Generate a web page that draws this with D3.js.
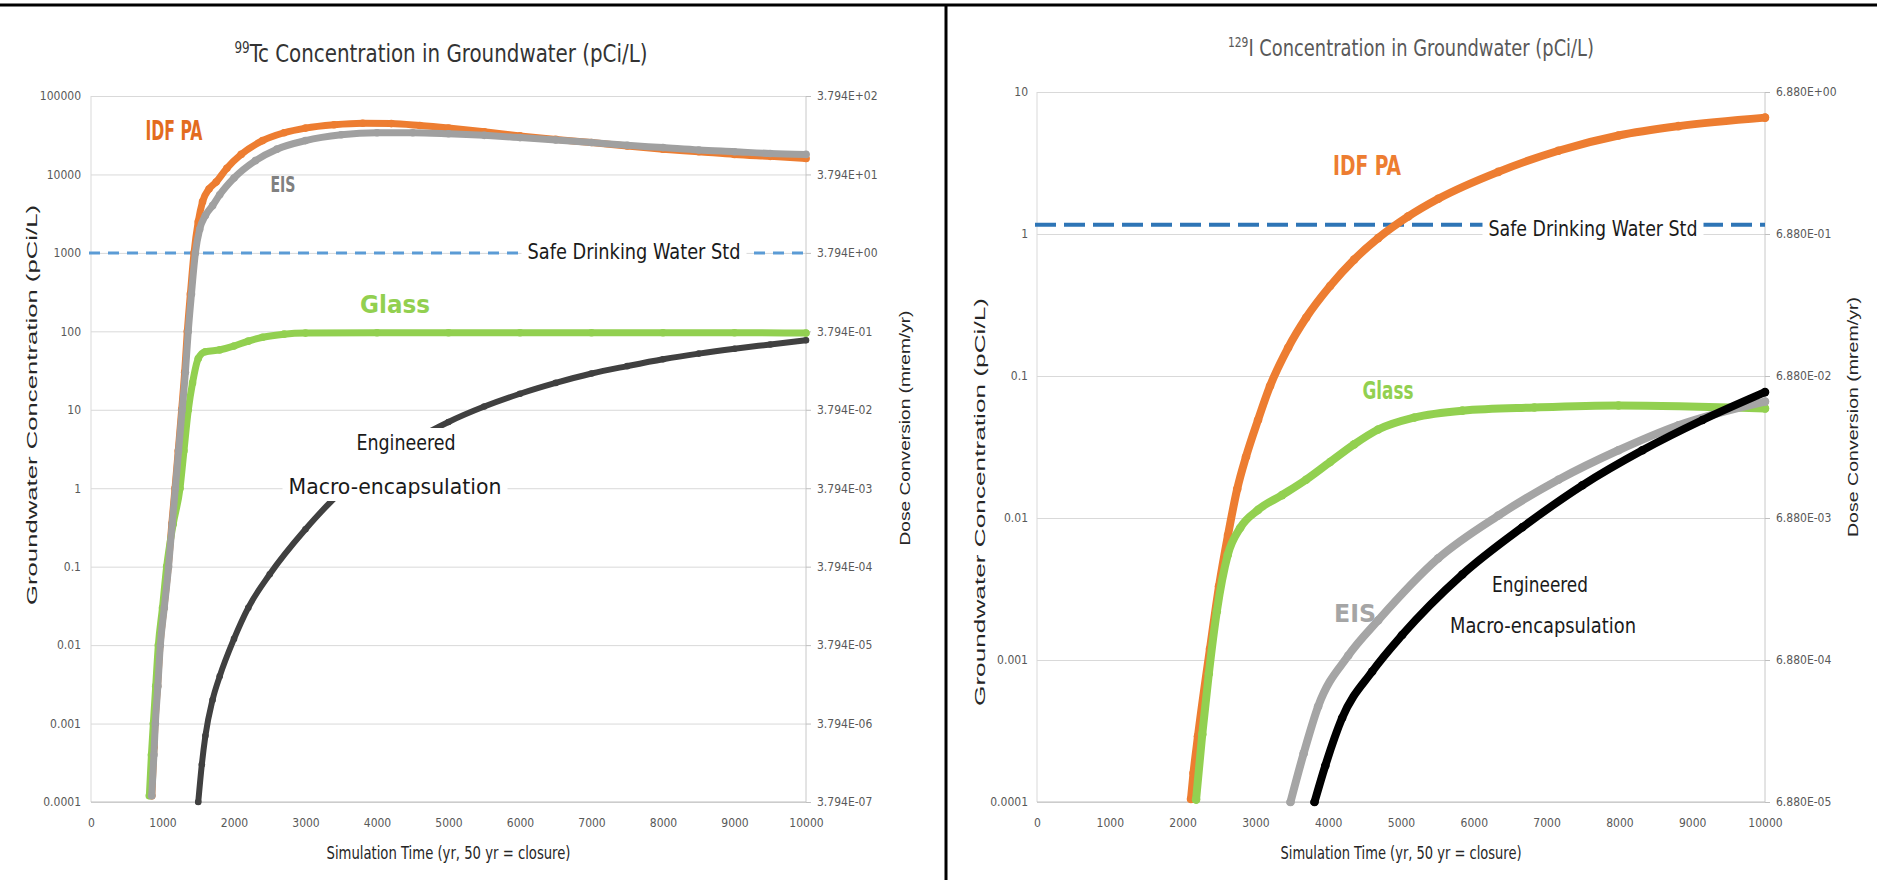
<!DOCTYPE html>
<html><head><meta charset="utf-8">
<script src="https://cdn.jsdelivr.net/npm/d3@7"></script>
<style>
body{margin:0;background:#fff;}
svg{display:block;}
text{font-family:"Liberation Sans Narrow","DejaVu Sans Condensed","Liberation Sans",sans-serif;}
</style></head><body>
<svg id="c" width="1877" height="880"></svg>
<script>
// ---------- DATA ----------
const xTicks = [0,1000,2000,3000,4000,5000,6000,7000,8000,9000,10000];

const tcYTicks = [1e-4,1e-3,1e-2,1e-1,1,10,100,1000,10000,100000];
const tcYTickLabels = ["0.0001","0.001","0.01","0.1","1","10","100","1000","10000","100000"];
const tcDoseLabels = ["3.794E-07","3.794E-06","3.794E-05","3.794E-04","3.794E-03","3.794E-02","3.794E-01","3.794E+00","3.794E+01","3.794E+02"];

const iYTicks = [1e-4,1e-3,1e-2,1e-1,1,10];
const iYTickLabels = ["0.0001","0.001","0.01","0.1","1","10"];
const iDoseLabels = ["6.880E-05","6.880E-04","6.880E-03","6.880E-02","6.880E-01","6.880E+00"];

const tcSafeStd = 1000;
const iSafeStd = 1.16;

// Tc-99 series [year, pCi/L]
const tcIdfPA = [[850,1.2e-4],[880,5e-4],[895,1e-3],[930,3e-3],[965,1e-2],[1020,3e-2],[1080,0.1],[1130,0.35],[1175,1],[1220,3],[1268,10],[1310,30],[1347,100],[1390,300],[1441,1000],[1500,2500],[1560,4500],[1650,6500],[1750,8000],[1900,12000],[2100,18000],[2400,27000],[2700,34000],[3000,39000],[3400,43000],[3800,45000],[4200,44500],[4600,42000],[5000,39000],[5500,35000],[6000,31000],[6500,28000],[7000,25500],[7500,23000],[8000,21000],[8500,19500],[9000,18000],[9500,17000],[10000,16000]];
const tcEIS = [[850,1.2e-4],[880,4e-4],[900,1e-3],[935,3e-3],[970,1e-2],[1025,3e-2],[1085,0.1],[1135,0.35],[1180,1],[1225,3],[1275,10],[1320,30],[1360,100],[1405,300],[1460,1000],[1520,2000],[1600,3000],[1700,4000],[1800,5500],[2000,9000],[2300,15000],[2600,21000],[3000,27000],[3500,32000],[4000,34000],[4500,34000],[5000,33000],[5500,31500],[6000,29500],[6500,27500],[7000,25500],[7500,23500],[8000,22000],[8500,20500],[9000,19500],[9500,18500],[10000,18000]];
const tcGlass = [[816,1.2e-4],[845,4e-4],[872,1e-3],[905,3e-3],[942,1e-2],[1000,3e-2],[1058,0.1],[1150,0.35],[1245,1],[1300,3],[1361,10],[1420,22],[1500,45],[1600,55],[1800,58],[2000,65],[2200,75],[2400,84],[2700,92],[3000,95],[4000,96],[5000,96],[6000,96],[7000,96],[8000,96],[9000,96],[10000,95]];
const tcEngineered = [[1500,1e-4],[1550,3e-4],[1600,7e-4],[1700,2e-3],[1800,4e-3],[2000,0.012],[2200,0.03],[2500,0.08],[3000,0.3],[3500,0.9],[4000,2],[4500,4],[5000,7],[5500,11],[6000,16],[6500,22],[7000,29],[7500,36],[8000,44],[8500,52],[9000,60],[9500,68],[10000,77]];

// I-129 series [year, pCi/L]
const iIdfPA = [[2115,1.05e-4],[2150,1.6e-4],[2211,2.9e-4],[2376,1.2e-3],[2500,3.3e-3],[2624,7.6e-3],[2750,0.016],[2871,0.027],[3036,0.049],[3201,0.085],[3449,0.158],[3696,0.257],[4026,0.43],[4356,0.66],[4686,0.935],[5100,1.33],[5512,1.77],[6337,2.74],[7162,3.86],[7987,4.94],[8812,5.75],[10000,6.6]];
const iGlass = [[2185,1.04e-4],[2270,3e-4],[2360,8e-4],[2470,2.2e-3],[2620,5.5e-3],[2790,8.5e-3],[3036,0.0114],[3366,0.0145],[3696,0.0186],[4026,0.0248],[4356,0.033],[4686,0.042],[5182,0.051],[5842,0.057],[6832,0.060],[7987,0.062],[10000,0.059]];
const iEIS = [[3482,1e-4],[3663,2.2e-4],[3861,4.7e-4],[4274,1.07e-3],[4686,1.9e-3],[5512,5.2e-3],[6337,0.0104],[7162,0.0186],[7987,0.030],[8812,0.045],[10000,0.066]];
const iEngineered = [[3812,1e-4],[3960,1.8e-4],[4191,3.9e-4],[4604,8.3e-4],[5016,1.5e-3],[5842,4.0e-3],[6667,8.6e-3],[7492,0.017],[8317,0.030],[9142,0.049],[10000,0.077]];

// ---------- DRAW ----------
const svg = d3.select("#c");
svg.append("rect").attr("width",1877).attr("height",880).attr("fill","#fff");

function panel(c){
  const g = svg.append("g");
  const x = d3.scaleLinear().domain([0,10000]).range([c.l,c.r]);
  const y = d3.scaleLog().domain([c.yTicks[0], c.yTicks[c.yTicks.length-1]]).range([c.b,c.t]);
  // grid
  g.append("g").attr("transform",`translate(${c.l},0)`)
    .call(d3.axisLeft(y).tickValues(c.yTicks).tickSize(-(c.r-c.l)).tickFormat(""))
    .call(s=>{s.select(".domain").remove(); s.selectAll("line").attr("stroke","#d9d9d9");});
  g.append("line").attr("x1",c.l).attr("x2",c.l).attr("y1",c.t).attr("y2",c.b).attr("stroke","#d9d9d9");
  g.append("line").attr("x1",c.r).attr("x2",c.r).attr("y1",c.t).attr("y2",c.b).attr("stroke","#c8c8c8");
  g.append("line").attr("x1",c.l).attr("x2",c.r).attr("y1",c.b).attr("y2",c.b).attr("stroke","#bfbfbf");
  // left tick labels
  g.append("g").attr("transform",`translate(${c.l},0)`)
    .call(d3.axisLeft(y).tickValues(c.yTicks).tickSize(0).tickPadding(c.lPad).tickFormat((d,i)=>c.yLabels[i]))
    .call(s=>{s.select(".domain").remove(); s.selectAll("text").attr("fill","#595959").style("font-size","12px");});
  // right axis
  g.append("g").attr("transform",`translate(${c.r},0)`)
    .call(d3.axisRight(y).tickValues(c.yTicks).tickSize(5).tickPadding(6).tickFormat((d,i)=>c.doseLabels[i]))
    .call(s=>{s.select(".domain").remove(); s.selectAll("line").attr("stroke","#bfbfbf"); s.selectAll("text").attr("fill","#595959").style("font-size","12px");});
  // x axis labels
  g.append("g").attr("transform",`translate(0,${c.b})`)
    .call(d3.axisBottom(x).tickValues(xTicks).tickSize(0).tickPadding(16).tickFormat(d3.format("d")))
    .call(s=>{s.select(".domain").remove(); s.selectAll("text").attr("fill","#595959").style("font-size","12px");});

  // safe drinking water std line
  g.append("line").attr("x1",c.l-2).attr("x2",c.r).attr("y1",y(c.std)).attr("y2",y(c.std))
    .attr("stroke",c.stdColor).attr("stroke-width",c.stdW).attr("stroke-dasharray",c.stdDash);

  const line = d3.line().x(d=>x(d[0])).y(d=>y(d[1])).curve(d3.curveMonotoneX);
  c.series.forEach(s=>{
    g.append("path").attr("d",line(s.data)).attr("fill","none").attr("stroke",s.color)
      .attr("stroke-width",s.w).attr("stroke-linecap","round").attr("stroke-linejoin","round");
    g.selectAll(null).data(s.data).enter().append("circle")
      .attr("cx",d=>x(d[0])).attr("cy",d=>y(d[1])).attr("r",s.w/2+0.3).attr("fill",s.color);
  });

  // labels
  const boxes = {};
  c.labels.forEach(L=>{
    const t = g.append("text").attr("x",L.x).attr("y",L.y).text(L.text)
      .attr("fill",L.color).style("font-size",L.size+"px").style("font-weight",L.bold?"bold":"normal")
      .attr("text-anchor","middle");
    if(L.len) t.attr("textLength",L.len).attr("lengthAdjust","spacingAndGlyphs");
    if(L.box){
      const bb = t.node().getBBox();
      const b = boxes[L.box] || (boxes[L.box] = {x0:1e9,y0:1e9,x1:-1e9,y1:-1e9,first:t.node(),pad:L.pad});
      b.x0 = Math.min(b.x0,bb.x); b.y0 = Math.min(b.y0,bb.y);
      b.x1 = Math.max(b.x1,bb.x+bb.width); b.y1 = Math.max(b.y1,bb.y+bb.height);
    }
  });
  Object.values(boxes).forEach(b=>{
    g.insert("rect",()=>b.first).attr("x",b.x0-b.pad[0]).attr("y",b.y0-b.pad[1])
      .attr("width",b.x1-b.x0+2*b.pad[0]).attr("height",b.y1-b.y0+2*b.pad[1]).attr("fill","#fff");
  });

  // titles
  const tt = g.append("text").attr("x",c.titleX).attr("y",c.titleY).attr("text-anchor","middle")
    .attr("fill",c.titleColor).style("font-size",c.titleSize+"px");
  tt.append("tspan").text(c.sup).style("font-size",(c.titleSize*0.6)+"px").attr("dy",-c.titleSize*0.38);
  tt.append("tspan").text(c.titleText).attr("dy",c.titleSize*0.38);
  tt.attr("textLength",c.titleLen).attr("lengthAdjust","spacingAndGlyphs");

  g.append("text").attr("x",(c.l+c.r)/2).attr("y",859).attr("text-anchor","middle").attr("fill","#262626")
    .style("font-size","17px").text("Simulation Time (yr, 50 yr = closure)").attr("textLength",c.xTitleLen).attr("lengthAdjust","spacingAndGlyphs");

  g.append("text").attr("transform",`translate(${c.yTitleX},${c.yTitleY}) rotate(-90)`).attr("text-anchor","middle")
    .attr("fill","#262626").style("font-size","14px").style("font-family","'Liberation Sans',sans-serif")
    .text("Groundwater  Concentration  (pCi/L)").attr("textLength",c.yTitleLen).attr("lengthAdjust","spacingAndGlyphs");
  g.append("text").attr("transform",`translate(${c.dTitleX},${c.dTitleY}) rotate(-90)`).attr("text-anchor","middle")
    .attr("fill","#262626").style("font-size","14px").style("font-family","'Liberation Sans',sans-serif")
    .text("Dose Conversion (mrem/yr)").attr("textLength",c.dTitleLen).attr("lengthAdjust","spacingAndGlyphs");
}

panel({
  l:91, r:806, t:96, b:802, yTicks:tcYTicks, yLabels:tcYTickLabels, doseLabels:tcDoseLabels, lPad:10,
  std:tcSafeStd, stdColor:"#5b9bd5", stdW:3, stdDash:"11 8",
  series:[
    {data:tcIdfPA, color:"#ed7d31", w:7},
    {data:tcGlass, color:"#92d050", w:7},
    {data:tcEIS, color:"#a0a0a0", w:7},
    {data:tcEngineered, color:"#404040", w:6}
  ],
  labels:[
    {text:"IDF PA", x:174, y:140, color:"#e36c1e", size:26, bold:true, len:57},
    {text:"EIS", x:283, y:192, color:"#808080", size:22, bold:true, len:25},
    {text:"Glass", x:395, y:313, color:"#92d050", size:24, bold:true, len:70},
    {text:"Safe Drinking Water Std", x:634, y:259, color:"#1a1a1a", size:21, len:213, box:"s", pad:[6,2]},
    {text:"Engineered", x:406, y:450, color:"#1a1a1a", size:22, len:99, box:"e", pad:[6,2]},
    {text:"Macro-encapsulation", x:395, y:494, color:"#1a1a1a", size:22, len:213, box:"e", pad:[6,2]}
  ],
  titleX:441, titleY:62, titleColor:"#333", titleSize:25, sup:"99", titleText:"Tc Concentration in Groundwater (pCi/L)", titleLen:413,
  xTitleLen:244, yTitleX:37, yTitleY:405, yTitleLen:400, dTitleX:910, dTitleY:428, dTitleLen:235
});

panel({
  l:1037, r:1765, t:92, b:802, yTicks:iYTicks, yLabels:iYTickLabels, doseLabels:iDoseLabels, lPad:9,
  std:iSafeStd, stdColor:"#2e75b6", stdW:4, stdDash:"21 8",
  series:[
    {data:iIdfPA, color:"#ed7d31", w:8},
    {data:iGlass, color:"#92d050", w:8},
    {data:iEIS, color:"#a5a5a5", w:8},
    {data:iEngineered, color:"#000000", w:8}
  ],
  labels:[
    {text:"IDF PA", x:1367, y:175, color:"#ed7d31", size:26, bold:true, len:68},
    {text:"Glass", x:1388, y:399, color:"#92d050", size:24, bold:true, len:51},
    {text:"EIS", x:1355, y:622, color:"#a5a5a5", size:24, bold:true, len:42},
    {text:"Safe Drinking Water Std", x:1593, y:236, color:"#1a1a1a", size:21, len:209, box:"s", pad:[6,2]},
    {text:"Engineered", x:1540, y:592, color:"#1a1a1a", size:22, len:96},
    {text:"Macro-encapsulation", x:1543, y:633, color:"#1a1a1a", size:22, len:186}
  ],
  titleX:1411, titleY:56, titleColor:"#595959", titleSize:23, sup:"129", titleText:"I Concentration in Groundwater (pCi/L)", titleLen:366,
  xTitleLen:241, yTitleX:985, yTitleY:502, yTitleLen:408, dTitleX:1858, dTitleY:417, dTitleLen:240
});

// frame lines
svg.append("line").attr("x1",0).attr("x2",1877).attr("y1",5).attr("y2",5).attr("stroke","#000").attr("stroke-width",3);
svg.append("line").attr("x1",946).attr("x2",946).attr("y1",4).attr("y2",880).attr("stroke","#000").attr("stroke-width",3);
</script>
</body></html>
